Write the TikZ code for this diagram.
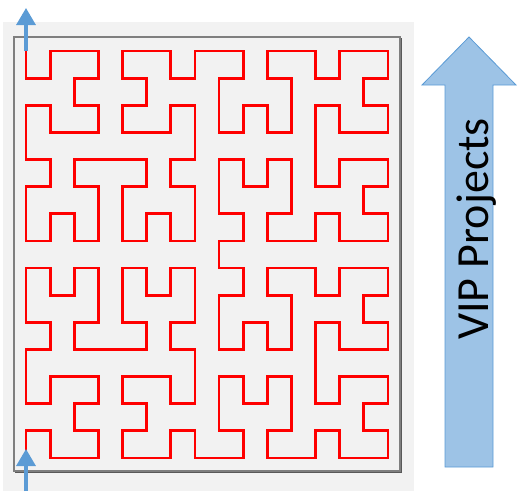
\documentclass[tikz,border=0pt]{standalone}
\usepackage{fontspec}
\setsansfont{Carlito}
\usetikzlibrary{arrows.meta}
\definecolor{bgc}{HTML}{F2F2F2}
\definecolor{curvered}{HTML}{FF0000}
\definecolor{arrowblue}{HTML}{5B9BD5}
\definecolor{bigfill}{HTML}{9DC3E6}
\definecolor{bigline}{HTML}{5B9BD5}
\definecolor{framec}{HTML}{7F7F7F}
\newcommand\hilbstep[1]{%
  \pgfmathtruncatemacro\hRx{mod(floor(\hT/2),2)}%
  \pgfmathtruncatemacro\hRy{mod(\hT+\hRx,2)}%
  \ifnum\hRy=0\relax
    \ifnum\hRx=1\relax
      \pgfmathtruncatemacro\hx{#1-1-\hx}%
      \pgfmathtruncatemacro\hy{#1-1-\hy}%
    \fi
    \let\hTmp\hx\let\hx\hy\let\hy\hTmp
  \fi
  \pgfmathtruncatemacro\hx{\hx+#1*\hRx}%
  \pgfmathtruncatemacro\hy{\hy+#1*\hRy}%
  \pgfmathtruncatemacro\hT{floor(\hT/4)}%
}
\tikzset{
  curve/.style={draw=curvered, line width=2.8pt, line join=miter},
  frame/.style={draw=framec, line width=1.4pt},
  smallarrow/.style={draw=arrowblue, line width=3.2pt, -{Triangle[width=19pt,length=17pt]}},
  bigarrow/.style={fill=bigfill, draw=bigline, line width=0.8pt, line join=miter},
  viptext/.style={font=\sffamily\fontsize{46}{50}\selectfont, rotate=90, anchor=base, inner sep=0pt}
}
\begin{document}
\begin{tikzpicture}[x=1pt,y=-1pt]
\useasboundingbox (0,0) rectangle (517,491);
\fill[bgc] (3,22) rectangle (414,491);
\draw[frame] (14,37) rectangle (400,471);
\draw[framec!70!black, line width=0.8pt] (401,38) -- (401,472) -- (15,472);
\foreach \d in {0,...,255}{%
  \pgfmathtruncatemacro\hT{\d}%
  \def\hx{0}\def\hy{0}%
  \hilbstep{1}\hilbstep{2}\hilbstep{4}\hilbstep{8}%
  \coordinate (p\d) at ({26+24.133*\hy},{458-27.133*\hx});
}
\draw[curve] (p0) \foreach \d in {1,...,255}{ -- (p\d)};
\coordinate (topend) at (26,8);
\coordinate (botstart) at (26,491);
\coordinate (botend) at (26,449);
\draw[smallarrow] (p255) -- (topend);
\draw[smallarrow] (botstart) -- (botend);
\draw[bigarrow] (445,467) -- (445,85) -- (422,85) -- (469,37) -- (516,85) -- (493,85) -- (493,467) -- cycle;
\node[viptext] (vip) at (488,229) {VIP Projects};
\end{tikzpicture}
\end{document}
